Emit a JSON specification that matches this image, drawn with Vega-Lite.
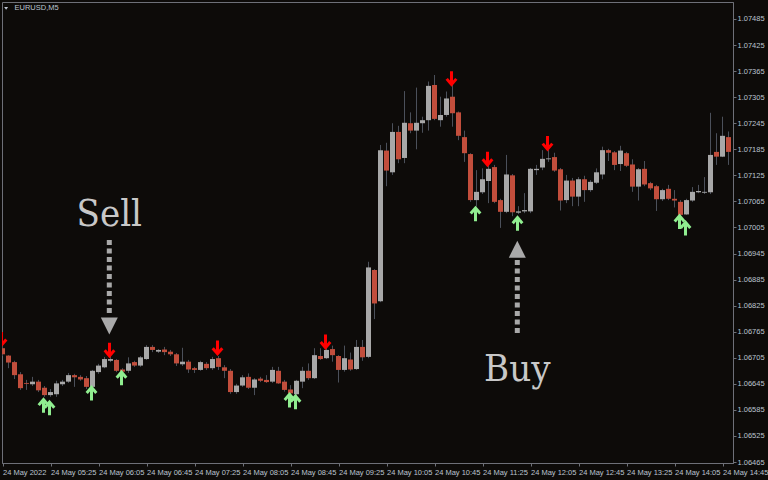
{
  "$schema": "https://vega.github.io/schema/vega-lite/v6.json",
  "autosize": {"type": "none"},
  "padding": {"left": 2, "top": 2, "right": 35, "bottom": 17},
  "width": 731,
  "height": 461,
  "background": "#0d0b09",
  "config": {
    "view": {"stroke": "#6e7078", "strokeWidth": 1},
    "scale": {"continuousPadding": 0},
    "axis": {"grid": false, "title": null, "labelFont": "Liberation Sans", "labelFontSize": 7.5, "labelColor": "#bcc4d0", "domainColor": "#6e7078", "tickColor": "#6e7078", "tickSize": 3, "labelOverlap": false, "labelBound": false, "labelFlush": false}
  },
  "datasets": {
    "candles": [
      {"t":"04:45","o":1.06727,"h":1.06732,"l":1.06709,"c":1.06713},
      {"t":"04:50","o":1.06710,"h":1.06711,"l":1.06681,"c":1.06694},
      {"t":"04:55","o":1.06695,"h":1.06698,"l":1.06656,"c":1.06665},
      {"t":"05:00","o":1.06667,"h":1.06672,"l":1.06631,"c":1.06635},
      {"t":"05:05","o":1.06647,"h":1.06654,"l":1.06631,"c":1.06645},
      {"t":"05:10","o":1.06644,"h":1.06661,"l":1.06640,"c":1.06650},
      {"t":"05:15","o":1.06650,"h":1.06654,"l":1.06626,"c":1.06630},
      {"t":"05:20","o":1.06636,"h":1.06640,"l":1.06615,"c":1.06619},
      {"t":"05:25","o":1.06619,"h":1.06633,"l":1.06615,"c":1.06626},
      {"t":"05:30","o":1.06621,"h":1.06652,"l":1.06615,"c":1.06646},
      {"t":"05:35","o":1.06644,"h":1.06654,"l":1.06640,"c":1.06650},
      {"t":"05:40","o":1.06650,"h":1.06670,"l":1.06647,"c":1.06665},
      {"t":"05:45","o":1.06665,"h":1.06668,"l":1.06638,"c":1.06660},
      {"t":"05:50","o":1.06661,"h":1.06665,"l":1.06652,"c":1.06655},
      {"t":"05:55","o":1.06658,"h":1.06663,"l":1.06633,"c":1.06638},
      {"t":"06:00","o":1.06638,"h":1.06677,"l":1.06635,"c":1.06675},
      {"t":"06:05","o":1.06672,"h":1.06691,"l":1.06668,"c":1.06687},
      {"t":"06:10","o":1.06683,"h":1.06707,"l":1.06681,"c":1.06702},
      {"t":"06:15","o":1.06698,"h":1.06709,"l":1.06695,"c":1.06702},
      {"t":"06:20","o":1.06700,"h":1.06702,"l":1.06672,"c":1.06675},
      {"t":"06:25","o":1.06678,"h":1.06681,"l":1.06668,"c":1.06673},
      {"t":"06:30","o":1.06675,"h":1.06706,"l":1.06670,"c":1.06692},
      {"t":"06:35","o":1.06695,"h":1.06698,"l":1.06684,"c":1.06687},
      {"t":"06:40","o":1.06687,"h":1.06709,"l":1.06684,"c":1.06706},
      {"t":"06:45","o":1.06702,"h":1.06734,"l":1.06700,"c":1.06730},
      {"t":"06:50","o":1.06730,"h":1.06734,"l":1.06718,"c":1.06723},
      {"t":"06:55","o":1.06719,"h":1.06725,"l":1.06716,"c":1.06723},
      {"t":"07:00","o":1.06724,"h":1.06730,"l":1.06711,"c":1.06718},
      {"t":"07:05","o":1.06719,"h":1.06723,"l":1.06709,"c":1.06713},
      {"t":"07:10","o":1.06713,"h":1.06716,"l":1.06686,"c":1.06692},
      {"t":"07:15","o":1.06690,"h":1.06728,"l":1.06686,"c":1.06696},
      {"t":"07:20","o":1.06696,"h":1.06700,"l":1.06670,"c":1.06678},
      {"t":"07:25","o":1.06681,"h":1.06684,"l":1.06670,"c":1.06677},
      {"t":"07:30","o":1.06677,"h":1.06698,"l":1.06675,"c":1.06695},
      {"t":"07:35","o":1.06691,"h":1.06695,"l":1.06677,"c":1.06681},
      {"t":"07:40","o":1.06681,"h":1.06707,"l":1.06677,"c":1.06702},
      {"t":"07:45","o":1.06704,"h":1.06709,"l":1.06677,"c":1.06684},
      {"t":"07:50","o":1.06683,"h":1.06688,"l":1.06658,"c":1.06675},
      {"t":"07:55","o":1.06675,"h":1.06679,"l":1.06622,"c":1.06626},
      {"t":"08:00","o":1.06626,"h":1.06645,"l":1.06622,"c":1.06641},
      {"t":"08:05","o":1.06641,"h":1.06665,"l":1.06638,"c":1.06660},
      {"t":"08:10","o":1.06661,"h":1.06669,"l":1.06633,"c":1.06636},
      {"t":"08:15","o":1.06636,"h":1.06658,"l":1.06619,"c":1.06655},
      {"t":"08:20","o":1.06657,"h":1.06661,"l":1.06649,"c":1.06652},
      {"t":"08:25","o":1.06654,"h":1.06665,"l":1.06647,"c":1.06649},
      {"t":"08:30","o":1.06650,"h":1.06684,"l":1.06647,"c":1.06677},
      {"t":"08:35","o":1.06675,"h":1.06684,"l":1.06645,"c":1.06646},
      {"t":"08:40","o":1.06650,"h":1.06654,"l":1.06627,"c":1.06631},
      {"t":"08:45","o":1.06632,"h":1.06642,"l":1.06619,"c":1.06623},
      {"t":"08:50","o":1.06621,"h":1.06654,"l":1.06612,"c":1.06652},
      {"t":"08:55","o":1.06650,"h":1.06684,"l":1.06635,"c":1.06675},
      {"t":"09:00","o":1.06675,"h":1.06692,"l":1.06654,"c":1.06658},
      {"t":"09:05","o":1.06658,"h":1.06727,"l":1.06656,"c":1.06711},
      {"t":"09:10","o":1.06709,"h":1.06727,"l":1.06700,"c":1.06702},
      {"t":"09:15","o":1.06704,"h":1.06730,"l":1.06702,"c":1.06723},
      {"t":"09:20","o":1.06725,"h":1.06733,"l":1.06696,"c":1.06711},
      {"t":"09:25","o":1.06709,"h":1.06711,"l":1.06648,"c":1.06677},
      {"t":"09:30","o":1.06677,"h":1.06733,"l":1.06673,"c":1.06704},
      {"t":"09:35","o":1.06701,"h":1.06717,"l":1.06675,"c":1.06678},
      {"t":"09:40","o":1.06679,"h":1.06746,"l":1.06677,"c":1.06730},
      {"t":"09:45","o":1.06730,"h":1.06746,"l":1.06698,"c":1.06706},
      {"t":"09:50","o":1.06707,"h":1.06926,"l":1.06704,"c":1.06913},
      {"t":"09:55","o":1.06907,"h":1.06909,"l":1.06794,"c":1.06830},
      {"t":"10:00","o":1.06835,"h":1.07195,"l":1.06833,"c":1.07183},
      {"t":"10:05","o":1.07182,"h":1.07200,"l":1.07100,"c":1.07136},
      {"t":"10:10","o":1.07132,"h":1.07245,"l":1.07126,"c":1.07225},
      {"t":"10:15","o":1.07225,"h":1.07239,"l":1.07153,"c":1.07162},
      {"t":"10:20","o":1.07165,"h":1.07319,"l":1.07153,"c":1.07246},
      {"t":"10:25","o":1.07245,"h":1.07270,"l":1.07222,"c":1.07228},
      {"t":"10:30","o":1.07228,"h":1.07327,"l":1.07185,"c":1.07246},
      {"t":"10:35","o":1.07245,"h":1.07260,"l":1.07223,"c":1.07252},
      {"t":"10:40","o":1.07252,"h":1.07341,"l":1.07228,"c":1.07331},
      {"t":"10:45","o":1.07333,"h":1.07356,"l":1.07252,"c":1.07255},
      {"t":"10:50","o":1.07252,"h":1.07306,"l":1.07237,"c":1.07264},
      {"t":"10:55","o":1.07264,"h":1.07318,"l":1.07260,"c":1.07302},
      {"t":"11:00","o":1.07306,"h":1.07333,"l":1.07237,"c":1.07268},
      {"t":"11:05","o":1.07270,"h":1.07272,"l":1.07206,"c":1.07216},
      {"t":"11:10","o":1.07213,"h":1.07228,"l":1.07156,"c":1.07176},
      {"t":"11:15","o":1.07174,"h":1.07176,"l":1.07064,"c":1.07068},
      {"t":"11:20","o":1.07068,"h":1.07137,"l":1.07053,"c":1.07087},
      {"t":"11:25","o":1.07086,"h":1.07141,"l":1.07082,"c":1.07116},
      {"t":"11:30","o":1.07112,"h":1.07156,"l":1.07061,"c":1.07140},
      {"t":"11:35","o":1.07144,"h":1.07149,"l":1.07061,"c":1.07064},
      {"t":"11:40","o":1.07068,"h":1.07071,"l":1.07004,"c":1.07041},
      {"t":"11:45","o":1.07041,"h":1.07172,"l":1.07038,"c":1.07127},
      {"t":"11:50","o":1.07125,"h":1.07128,"l":1.07031,"c":1.07040},
      {"t":"11:55","o":1.07039,"h":1.07054,"l":1.07036,"c":1.07042},
      {"t":"12:00","o":1.07042,"h":1.07084,"l":1.07038,"c":1.07045},
      {"t":"12:05","o":1.07042,"h":1.07142,"l":1.07038,"c":1.07140},
      {"t":"12:10","o":1.07137,"h":1.07149,"l":1.07126,"c":1.07140},
      {"t":"12:15","o":1.07143,"h":1.07183,"l":1.07137,"c":1.07163},
      {"t":"12:20","o":1.07162,"h":1.07191,"l":1.07156,"c":1.07164},
      {"t":"12:25","o":1.07167,"h":1.07177,"l":1.07133,"c":1.07136},
      {"t":"12:30","o":1.07139,"h":1.07142,"l":1.07044,"c":1.07067},
      {"t":"12:35","o":1.07068,"h":1.07126,"l":1.07061,"c":1.07113},
      {"t":"12:40","o":1.07113,"h":1.07119,"l":1.07054,"c":1.07076},
      {"t":"12:45","o":1.07076,"h":1.07121,"l":1.07054,"c":1.07116},
      {"t":"12:50","o":1.07116,"h":1.07124,"l":1.07064,"c":1.07091},
      {"t":"12:55","o":1.07091,"h":1.07114,"l":1.07087,"c":1.07110},
      {"t":"13:00","o":1.07108,"h":1.07141,"l":1.07105,"c":1.07132},
      {"t":"13:05","o":1.07127,"h":1.07191,"l":1.07116,"c":1.07183},
      {"t":"13:10","o":1.07183,"h":1.07186,"l":1.07158,"c":1.07177},
      {"t":"13:15","o":1.07178,"h":1.07181,"l":1.07137,"c":1.07149},
      {"t":"13:20","o":1.07151,"h":1.07193,"l":1.07135,"c":1.07182},
      {"t":"13:25","o":1.07176,"h":1.07179,"l":1.07144,"c":1.07147},
      {"t":"13:30","o":1.07150,"h":1.07162,"l":1.07087,"c":1.07099},
      {"t":"13:35","o":1.07099,"h":1.07142,"l":1.07067,"c":1.07139},
      {"t":"13:40","o":1.07140,"h":1.07158,"l":1.07100,"c":1.07104},
      {"t":"13:45","o":1.07107,"h":1.07110,"l":1.07091,"c":1.07095},
      {"t":"13:50","o":1.07100,"h":1.07103,"l":1.07043,"c":1.07070},
      {"t":"13:55","o":1.07070,"h":1.07094,"l":1.07066,"c":1.07091},
      {"t":"14:00","o":1.07094,"h":1.07103,"l":1.07068,"c":1.07071},
      {"t":"14:05","o":1.07071,"h":1.07091,"l":1.07051,"c":1.07067},
      {"t":"14:10","o":1.07064,"h":1.07068,"l":1.07031,"c":1.07034},
      {"t":"14:15","o":1.07035,"h":1.07071,"l":1.07034,"c":1.07068},
      {"t":"14:20","o":1.07067,"h":1.07098,"l":1.07064,"c":1.07087},
      {"t":"14:25","o":1.07086,"h":1.07103,"l":1.07084,"c":1.07089},
      {"t":"14:30","o":1.07085,"h":1.07121,"l":1.07082,"c":1.07087},
      {"t":"14:35","o":1.07086,"h":1.07269,"l":1.07082,"c":1.07172},
      {"t":"14:40","o":1.07179,"h":1.07222,"l":1.07149,"c":1.07168},
      {"t":"14:45","o":1.07168,"h":1.07260,"l":1.07167,"c":1.07216},
      {"t":"14:50","o":1.07213,"h":1.07226,"l":1.07149,"c":1.07179}
    ],
    "dn": [
      {"t":"04:45","p":1.06748},{"t":"06:15","p":1.06723},{"t":"07:45","p":1.06728},{"t":"09:15","p":1.06742},
      {"t":"11:00","p":1.07348},{"t":"11:30","p":1.07163},{"t":"12:20","p":1.07199}
    ],
    "up": [
      {"t":"05:20","p":1.06595},{"t":"05:25","p":1.06589},{"t":"06:00","p":1.06623},{"t":"06:25","p":1.06658},
      {"t":"08:45","p":1.06607},{"t":"08:50","p":1.06603},{"t":"11:20","p":1.07036},{"t":"11:55","p":1.07014},
      {"t":"14:10","p":1.07018},{"t":"14:15","p":1.07003}
    ],
    "shaft": [
      {"t":"06:14","p":1.06976,"p2":1.06801},
      {"t":"11:54","p":1.06930,"p2":1.06755}
    ],
    "tri": [
      {"t":"06:14","p":1.06778,"dir":"down"},
      {"t":"11:54","p":1.06955,"dir":"up"}
    ],
    "words": [
      {"t":"06:14","p":1.07008,"text":"Sell"},
      {"t":"11:54","p":1.06652,"text":"Buy"}
    ],
    "head": [
      {"t":"04:55","p":1.07510,"text":"EURUSD,M5"}
    ],
    "headmark": [
      {"t":"04:48","p":1.07510}
    ]
  },
  "encoding": {
    "x": {
      "field": "t", "type": "temporal",
      "scale": {"type": "utc", "domain": [{"year":1900,"month":1,"date":1,"hours":4,"minutes":44,"seconds":35,"utc":true},{"year":1900,"month":1,"date":1,"hours":14,"minutes":53,"seconds":45,"utc":true}], "nice": false, "padding": 0},
      "axis": {
        "orient": "bottom",
        "values": [
          {"year":1900,"month":1,"date":1,"hours":4,"minutes":45,"utc":true},
          {"year":1900,"month":1,"date":1,"hours":5,"minutes":25,"utc":true},
          {"year":1900,"month":1,"date":1,"hours":6,"minutes":5,"utc":true},
          {"year":1900,"month":1,"date":1,"hours":6,"minutes":45,"utc":true},
          {"year":1900,"month":1,"date":1,"hours":7,"minutes":25,"utc":true},
          {"year":1900,"month":1,"date":1,"hours":8,"minutes":5,"utc":true},
          {"year":1900,"month":1,"date":1,"hours":8,"minutes":45,"utc":true},
          {"year":1900,"month":1,"date":1,"hours":9,"minutes":25,"utc":true},
          {"year":1900,"month":1,"date":1,"hours":10,"minutes":5,"utc":true},
          {"year":1900,"month":1,"date":1,"hours":10,"minutes":45,"utc":true},
          {"year":1900,"month":1,"date":1,"hours":11,"minutes":25,"utc":true},
          {"year":1900,"month":1,"date":1,"hours":12,"minutes":5,"utc":true},
          {"year":1900,"month":1,"date":1,"hours":12,"minutes":45,"utc":true},
          {"year":1900,"month":1,"date":1,"hours":13,"minutes":25,"utc":true},
          {"year":1900,"month":1,"date":1,"hours":14,"minutes":5,"utc":true},
          {"year":1900,"month":1,"date":1,"hours":14,"minutes":45,"utc":true}
        ],
        "labelExpr": "utcFormat(datum.value, '%H:%M') == '04:45' ? '24 May 2022' : '24 May ' + utcFormat(datum.value, '%H:%M')",
        "labelAlign": "left",
        "labelPadding": 2,
        "labelOverlap": false
      }
    },
    "y": {
      "type": "quantitative",
      "scale": {"domain": [1.064627, 1.075241], "nice": false, "zero": false, "padding": 0},
      "axis": {"orient": "right", "format": ".5f", "labelPadding": 1, "labelOverlap": false,
        "values": [1.06465,1.06525,1.06585,1.06645,1.06705,1.06765,1.06825,1.06885,1.06945,1.07005,1.07065,1.07125,1.07185,1.07245,1.07305,1.07365,1.07425,1.07485]}
    }
  },
  "layer": [
    {
      "data": {"name": "candles", "format": {"parse": {"t": "utc:'%H:%M'"}}},
      "layer": [
        {
          "mark": {"type": "rule", "color": "#4b505a", "strokeWidth": 1, "clip": true},
          "encoding": {"y": {"field": "l", "type": "quantitative"}, "y2": {"field": "h"}}
        },
        {
          "mark": {"type": "bar", "size": 5, "clip": true},
          "encoding": {
            "y": {"field": "o", "type": "quantitative"},
            "y2": {"field": "c"},
            "color": {"condition": {"test": "datum.o > datum.c", "value": "#c24e3c"}, "value": "#a8a8a8"}
          }
        }
      ]
    },
    {
      "data": {"name": "dn", "format": {"parse": {"t": "utc:'%H:%M'"}}},
      "mark": {"type": "point", "shape": "M0,-0.9V0.7M-0.6,0.05L0,0.75L0.6,0.05", "filled": false, "stroke": "#ff0000", "strokeWidth": 3, "size": 256, "opacity": 1, "xOffset": -1, "strokeJoin": "miter", "clip": true},
      "encoding": {"y": {"field": "p", "type": "quantitative"}}
    },
    {
      "data": {"name": "up", "format": {"parse": {"t": "utc:'%H:%M'"}}},
      "mark": {"type": "point", "shape": "M0,0.9V-0.7M-0.6,-0.05L0,-0.75L0.6,-0.05", "filled": false, "stroke": "#90ee90", "strokeWidth": 3, "size": 256, "opacity": 1, "xOffset": -1, "strokeJoin": "miter", "clip": true},
      "encoding": {"y": {"field": "p", "type": "quantitative"}}
    },
    {
      "data": {"name": "shaft", "format": {"parse": {"t": "utc:'%H:%M'"}}},
      "mark": {"type": "rule", "color": "#a9a9a9", "strokeWidth": 5, "strokeDash": [5, 3.5]},
      "encoding": {"y": {"field": "p", "type": "quantitative"}, "y2": {"field": "p2"}}
    },
    {
      "data": {"name": "tri", "format": {"parse": {"t": "utc:'%H:%M'"}}},
      "mark": {"type": "point", "filled": true, "size": 289, "opacity": 1, "color": "#a9a9a9"},
      "encoding": {
        "y": {"field": "p", "type": "quantitative"},
        "shape": {"field": "dir", "type": "nominal", "scale": {"domain": ["down", "up"], "range": ["M-1,-1L1,-1L0,1Z", "M-1,1L1,1L0,-1Z"]}, "legend": null}
      }
    },
    {
      "data": {"name": "words", "format": {"parse": {"t": "utc:'%H:%M'"}}},
      "mark": {"type": "text", "font": "DejaVu Serif Condensed, DejaVu Serif", "fontSize": 38, "color": "#c8c8c8", "align": "center", "baseline": "alphabetic"},
      "encoding": {"y": {"field": "p", "type": "quantitative"}, "text": {"field": "text"}}
    },
    {
      "data": {"name": "head", "format": {"parse": {"t": "utc:'%H:%M'"}}},
      "mark": {"type": "text", "font": "Liberation Sans", "fontSize": 7.5, "color": "#bcc4d0", "align": "left", "baseline": "middle"},
      "encoding": {"y": {"field": "p", "type": "quantitative"}, "text": {"field": "text"}}
    },
    {
      "data": {"name": "headmark", "format": {"parse": {"t": "utc:'%H:%M'"}}},
      "mark": {"type": "point", "shape": "M-1,-0.6L1,-0.6L0,0.8Z", "filled": true, "size": 16, "opacity": 1, "color": "#bcc4d0"},
      "encoding": {"y": {"field": "p", "type": "quantitative"}}
    }
  ]
}
